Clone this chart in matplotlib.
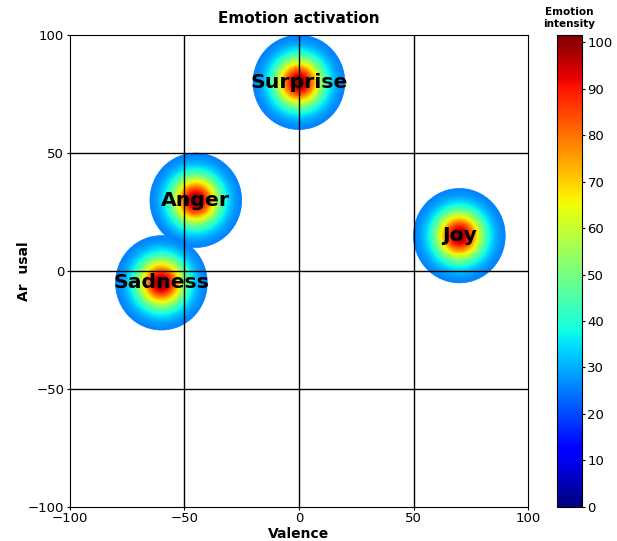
import matplotlib
matplotlib.use('Agg')

import matplotlib.pyplot as plt
import numpy as np
from matplotlib.patches import Circle

emotions = ['Surprise', 'Anger', 'Sadness', 'Joy']
valence = [0, -45, -60, 70]
arousal = [80, 30, -5, 15]
intensity = [100, 100, 100, 100]
radius = 20

cmap = plt.get_cmap('jet')
norm = matplotlib.colors.Normalize(vmin=0, vmax=101.5)

fig = plt.figure(figsize=(6.17, 5.41), dpi=100)
ax = fig.add_axes([0.113, 0.063, 0.743, 0.872])
cax = fig.add_axes([0.903, 0.063, 0.040, 0.872])

for name, v, a, inten in zip(emotions, valence, arousal, intensity):
    # stack of filled circles, weaker toward the rim
    rs = np.linspace(radius, 0.4, 70)
    for r in rs:
        val = 24 + (inten - 24) * np.exp(-(r / radius) ** 2 / (2 * 0.36 ** 2))
        c = cmap(norm(val))
        ax.add_patch(Circle((v, a), r, facecolor=c, edgecolor=c, lw=0.5, zorder=2))
    ax.text(v, a, name, ha='center', va='center', fontsize=14.7, fontweight='bold', zorder=5)

for g in [-50, 0, 50]:
    ax.axvline(g, color='black', lw=1, zorder=4)
    ax.axhline(g, color='black', lw=1, zorder=4)

ax.set_xlim(-100, 100)
ax.set_ylim(-100, 100)
ax.set_xticks([-100, -50, 0, 50, 100])
ax.set_yticks([-100, -50, 0, 50, 100])
ax.tick_params(length=2, pad=2, labelsize=9.5)
ax.set_xlabel('Valence', fontsize=10, fontweight='bold', labelpad=1)
ax.set_ylabel('Ar  usal', fontsize=10, fontweight='bold')
ax.yaxis.set_label_coords(-0.085, 0.5)
ax.set_title('Emotion activation', fontsize=11, fontweight='bold', pad=9)

sm = matplotlib.cm.ScalarMappable(norm=norm, cmap=cmap)
cb = fig.colorbar(sm, cax=cax, ticks=np.arange(0, 101, 10))
cax.tick_params(length=2, pad=2, labelsize=9.5)
cax.set_title('Emotion\nintensity', fontsize=7.5, fontweight='bold')

plt.savefig('out.png', dpi=100)
plt.close()
